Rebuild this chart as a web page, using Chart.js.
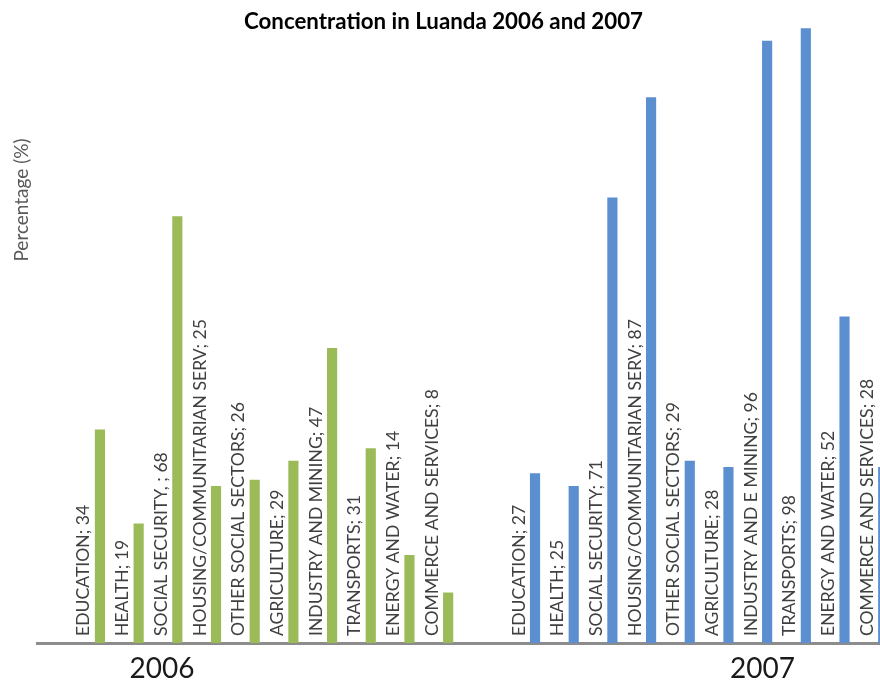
<!DOCTYPE html>
<html>
<head>
<meta charset="utf-8">
<title>Concentration in Luanda 2006 and 2007</title>
<script src="https://cdn.jsdelivr.net/npm/chart.js@4"></script>
<style>
    html, body { margin: 0; padding: 0; background: #fff; overflow: hidden; }
    #wrap { width: 880px; height: 683px; }
</style>
</head>
<body>
<div id="wrap"><canvas id="luanda-chart"></canvas></div>
<script>
    // start: Data
    const years = ['2006', '2007']

    const sectors2006 = [
        'EDUCATION',
        'HEALTH',
        'SOCIAL SECURITY, ',
        'HOUSING/COMMUNITARIAN SERV',
        'OTHER SOCIAL SECTORS',
        'AGRICULTURE',
        'INDUSTRY AND MINING',
        'TRANSPORTS',
        'ENERGY AND WATER',
        'COMMERCE AND SERVICES',
    ]
    const sectors2007 = [
        'EDUCATION',
        'HEALTH',
        'SOCIAL SECURITY',
        'HOUSING/COMMUNITARIAN SERV',
        'OTHER SOCIAL SECTORS',
        'AGRICULTURE',
        'INDUSTRY AND E MINING',
        'TRANSPORTS',
        'ENERGY AND WATER',
        'COMMERCE AND SERVICES',
    ]

    const values2006 = [34, 19, 68, 25, 26, 29, 47, 31, 14, 8]
    const values2007 = [27, 25, 71, 87, 29, 28, 96, 98, 52, 28]
    // end: Data

    // the 2007 group starts after one empty slot
    const groupGap = 1
    const secondStart = values2006.length + groupGap
    // where the year labels sit on the slot axis
    const yearTicks = [1.48, 17]

    const toPoints = (values, start) => values.map((v, i) => ({ x: start + i, y: v }))

    // start: Plugins
    // vertical "NAME; value" label to the left of each bar
    const barLabels = {
        id: 'barLabels',
        afterDatasetsDraw(chart) {
            const ctx = chart.ctx
            ctx.save()
            ctx.font = '17.6px Lato'
            ctx.fillStyle = '#404040'
            ctx.textAlign = 'left'
            ctx.textBaseline = 'alphabetic'
            chart.data.datasets.forEach((ds, d) => {
                const names = d === 0 ? sectors2006 : sectors2007
                chart.getDatasetMeta(d).data.forEach((bar, i) => {
                    ctx.save()
                    ctx.translate(bar.x - 10.5, bar.base - 7)
                    ctx.rotate(-Math.PI / 2)
                    ctx.fillText(names[i] + '; ' + ds.data[i].y, 0, 0)
                    ctx.restore()
                })
            })
            ctx.restore()
        }
    }

    // axis title sits higher than the middle of the plot
    const yTitle = {
        id: 'yTitle',
        afterDraw(chart) {
            const ctx = chart.ctx
            ctx.save()
            ctx.font = '19px Lato'
            ctx.fillStyle = '#595959'
            ctx.textAlign = 'center'
            ctx.textBaseline = 'middle'
            ctx.translate(chart.scales.y.left + 15, 200)
            ctx.rotate(-Math.PI / 2)
            ctx.fillText('Percentage (%)', 0, 0)
            ctx.restore()
        }
    }
    // end: Plugins

    // start: Chart
    const luandaChart = new Chart(document.getElementById('luanda-chart'), {
        type: 'bar',
        data: {
            datasets: [{
                label: years[0],
                backgroundColor: '#9bbb59',
                barThickness: 9.5,
                data: toPoints(values2006, 0),
            }, {
                label: years[1],
                backgroundColor: '#5b8fcf',
                barThickness: 9.5,
                data: toPoints(values2007, secondStart),
            }]
        },
        options: {
            responsive: true,
            maintainAspectRatio: false,
            animation: false,
            layout: {
                padding: { left: 7, right: 0, top: 0, bottom: -12 }
            },
            plugins: {
                legend: {
                    display: false
                },
                tooltip: {
                    enabled: false
                },
                title: {
                    display: true,
                    text: 'Concentration in Luanda 2006 and 2007',
                    color: '#000',
                    font: { family: 'Lato', size: 22.3, weight: 'bold', lineHeight: 1.2 },
                    padding: { top: 8.6, bottom: -19.4 }
                }
            },
            scales: {
                x: {
                    type: 'linear',
                    min: -1.75,
                    max: 20.04,
                    bounds: 'data',
                    offset: false,
                    z: 1,
                    grid: {
                        display: false,
                        drawTicks: false
                    },
                    border: {
                        display: true,
                        color: '#8c8c8c',
                        width: 3
                    },
                    afterBuildTicks(scale) {
                        scale.ticks = yearTicks.map(v => ({ value: v }))
                    },
                    ticks: {
                        autoSkip: false,
                        maxRotation: 0,
                        padding: 12,
                        color: '#1a1a1a',
                        font: { family: 'Lato', size: 28, lineHeight: 1 },
                        callback: (value, index) => years[index]
                    }
                },
                y: {
                    min: 0,
                    max: 100,
                    grid: {
                        display: false,
                        drawTicks: false
                    },
                    border: {
                        display: false
                    },
                    ticks: {
                        display: false
                    },
                    // room for the axis title drawn by the yTitle plugin
                    afterFit(scale) {
                        scale.width = 30
                    }
                }
            }
        },
        plugins: [barLabels, yTitle]
    })
    // end: Chart
</script>
</body>
</html>
